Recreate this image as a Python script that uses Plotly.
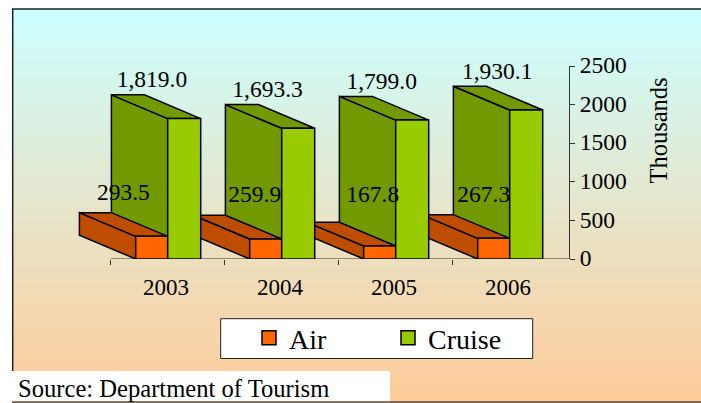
import plotly.graph_objects as go

years = ["2003", "2004", "2005", "2006"]
air = [293.5, 259.9, 167.8, 267.3]
cruise = [1819.0, 1693.3, 1799.0, 1930.1]
air_labels = ["293.5", "259.9", "167.8", "267.3"]
cruise_labels = ["1,819.0", "1,693.3", "1,799.0", "1,930.1"]
y_ticks = [0, 500, 1000, 1500, 2000, 2500]

W, H = 701, 403
X_ZERO = 110.7             # pixel of the first category boundary
X_LEFT, X_RIGHT = 60.0, 569.0  # axis area in pixels (left part holds the depth of the first boxes)
Y0, Y1 = 259.0, 66.0
CAT_W = 114.0
PX_X = 1 / CAT_W           # category units per pixel
PX_Y = 2500 / (Y0 - Y1)    # value units per pixel

DX = -56.3 * PX_X          # oblique depth
DY = 23.7 * PX_Y
AIR_L, AIR_R = 25 * PX_X, 57 * PX_X
CR_L, CR_R = 57 * PX_X, 90 * PX_X

# hand-placed data label offsets in the original (pixels)
cruise_label_dx = [41.2, 42.8, 43.0, 44.5]
cruise_label_up = [13.5, 13.5, 13.5, 13.5]
air_label_dx = [12.7, 30, 34, 31]
air_label_up = [19, 19, 26, 19]

FONT = "Liberation Serif, serif"
AIR_FRONT, AIR_DARK = "#FF6600", "#BF4D00"
CR_FRONT, CR_DARK = "#99CC00", "#739900"

RANGE = [(X_LEFT - X_ZERO) / CAT_W, (X_RIGHT - X_ZERO) / CAT_W]

fig = go.Figure()


def face(xs, ys, color):
    fig.add_trace(go.Scatter(
        x=xs + xs[:1], y=ys + ys[:1], mode="lines", fill="toself", fillcolor=color,
        line=dict(color="black", width=1.5), showlegend=False, hoverinfo="skip"))


def box(i, left, right, v, front, dark, parts):
    l, r = i + left, i + right
    if "side" in parts:
        face([l, l + DX, l + DX, l], [0, DY, v + DY, v], dark)
    if "top" in parts:
        face([l, l + DX, r + DX, r], [v, v + DY, v + DY, v], dark)
    if "front" in parts:
        face([l, r, r, l], [0, 0, v, v], front)


# category axis line, from the first boundary to the value axis
fig.add_trace(go.Scatter(x=[0, RANGE[1]], y=[0, 0], mode="lines", cliponaxis=False,
                         line=dict(color="#333333", width=1), showlegend=False, hoverinfo="skip"))

for i in reversed(range(4)):
    box(i, CR_L, CR_R, cruise[i], CR_FRONT, CR_DARK, ["side", "top"])
    box(i, AIR_L, AIR_R, air[i], AIR_FRONT, AIR_DARK, ["side", "top", "front"])
    box(i, CR_L, CR_R, cruise[i], CR_FRONT, CR_DARK, ["front"])

# data labels
fig.add_trace(go.Scatter(
    x=[i + d * PX_X for i, d in enumerate(cruise_label_dx)],
    y=[v + DY + u * PX_Y for v, u in zip(cruise, cruise_label_up)],
    mode="text", text=cruise_labels, textposition="middle center", cliponaxis=False,
    textfont=dict(family=FONT, size=23.5, color="black"), showlegend=False, hoverinfo="skip"))
fig.add_trace(go.Scatter(
    x=[i + d * PX_X for i, d in enumerate(air_label_dx)],
    y=[v + DY + u * PX_Y for v, u in zip(air, air_label_up)],
    mode="text", text=air_labels, textposition="middle center", cliponaxis=False,
    textfont=dict(family=FONT, size=23.5, color="black"), showlegend=False, hoverinfo="skip"))

# legend entries
for name, col in (("Air", AIR_FRONT), ("Cruise", CR_FRONT)):
    fig.add_trace(go.Scatter(
        x=[None], y=[None], mode="markers", name=name,
        marker=dict(symbol="square", size=14, color=col, line=dict(color="black", width=1.5))))

# tick marks at category boundaries
fig.add_trace(go.Scatter(x=[0], y=[None], xaxis="x2", yaxis="y", showlegend=False, hoverinfo="skip"))

# background gradient, frame
shapes = []
TOP, BOT = (0xCC, 0xFF, 0xFF), (0xFF, 0xCC, 0x99)
N = 393
for k in range(0, N, 2):
    t = k / (N - 1)
    c = tuple(round(a + (b - a) * t) for a, b in zip(TOP, BOT))
    shapes.append(dict(type="rect", xref="paper", yref="paper", layer="below",
                       x0=12 / W, x1=1, y0=1 - (9 + k) / H, y1=1 - (9 + k + 2.5) / H,
                       fillcolor="rgb(%d,%d,%d)" % c, line_width=0))


def rect(x0, y0, x1, y1, fill, line=None):
    shapes.append(dict(type="rect", xref="paper", yref="paper", layer="below",
                       x0=x0 / W, x1=x1 / W, y0=1 - y0 / H, y1=1 - y1 / H, fillcolor=fill,
                       line=dict(color=line, width=1) if line else dict(width=0)))


def hline(x0, y0, x1, y1, color="#222222", w=1.5):
    shapes.append(dict(type="line", xref="paper", yref="paper", layer="below",
                       x0=x0 / W, x1=x1 / W, y0=1 - y0 / H, y1=1 - y1 / H,
                       line=dict(color=color, width=w)))


rect(12, 371, 390, 402, "white")
rect(220.7, 318.7, 532.7, 358.5, "white", "#222222")
hline(12.7, 9, 12.7, 371)
hline(12, 9, 701, 9)
hline(12, 402, 701, 402, "black", 1)

annotations = [
    dict(text="Source: Department of Tourism", xref="paper", yref="paper", x=15.5 / W, y=1 - 388.5 / H,
         xanchor="left", yanchor="middle", showarrow=False, font=dict(family=FONT, size=24.6)),
    dict(text="Thousands", xref="paper", yref="paper", x=658 / W, y=1 - 130.5 / H, textangle=-90,
         xanchor="center", yanchor="middle", showarrow=False, font=dict(family=FONT, size=24.5)),
]

fig.update_layout(
    width=W, height=H, margin=dict(l=0, r=0, t=0, b=0, autoexpand=False), paper_bgcolor="white",
    plot_bgcolor="rgba(0,0,0,0)", shapes=shapes, annotations=annotations,
    font=dict(family=FONT, size=23, color="black"),
    xaxis=dict(domain=[X_LEFT / W, X_RIGHT / W], range=RANGE, tickmode="array",
               tickvals=[0.485, 1.485, 2.485, 3.485], ticktext=years, ticks="", showgrid=False,
               zeroline=False, showline=False,
               tickfont=dict(family=FONT, size=23), anchor="y", ticklabelstandoff=12),
    xaxis2=dict(overlaying="x", domain=[X_LEFT / W, X_RIGHT / W], range=RANGE, tickvals=[0, 1, 2, 3],
                ticktext=[""] * 4, ticks="outside", ticklen=5, tickcolor="#333333",
                showgrid=False, zeroline=False, side="bottom", anchor="y"),
    yaxis=dict(domain=[1 - Y0 / H, 1 - Y1 / H], range=[0, 2500], tickvals=y_ticks, side="right",
               ticks="outside", ticklen=5, tickcolor="#333333", showgrid=False, zeroline=False,
               showline=True, linecolor="#333333", linewidth=1, ticklabelshift=-1,
               tickfont=dict(family=FONT, size=23.5), anchor="x"),
    legend=dict(orientation="h", x=249 / W, y=1 - 338 / H, xanchor="left", yanchor="middle",
                bgcolor="rgba(0,0,0,0)", font=dict(family=FONT, size=28), entrywidth=94),
)

fig.write_html("out.html", config=dict(displayModeBar=False),
               post_script="document.body.style.margin='0';")
